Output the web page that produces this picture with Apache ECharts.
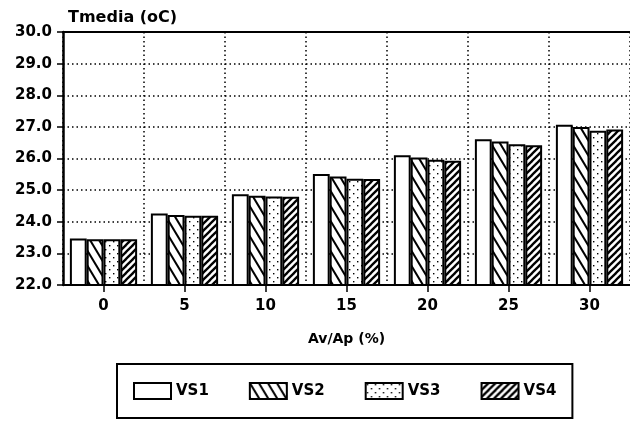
<!DOCTYPE html>
<html>
<head>
<meta charset="utf-8">
<script src="https://cdn.jsdelivr.net/npm/echarts@6/dist/echarts.min.js"></script>
<style>
  html, body { margin: 0; padding: 0; background: #fff; }
  #chart { width: 630px; height: 423px; }
</style>
</head>
<body>
<div id="chart"></div>
<script>
// Ventilation ratio categories (Av/Ap, %)
const categories = ['0', '5', '10', '15', '20', '25', '30'];
// Mean temperature (oC) per configuration
const vs1 = [23.47, 24.26, 24.87, 25.51, 26.10, 26.61, 27.07];
const vs2 = [23.45, 24.21, 24.82, 25.43, 26.03, 26.54, 27.00];
const vs3 = [23.45, 24.19, 24.80, 25.36, 25.96, 26.45, 26.88];
const vs4 = [23.45, 24.19, 24.79, 25.35, 25.93, 26.42, 26.92];
const seriesNames = ['VS1', 'VS2', 'VS3', 'VS4'];
const yTicks = { min: 22, max: 30, step: 1 };

const FONT = 'DejaVu Sans';

// Monochrome hatch fills built on small tiles
function tile(w, h, draw) {
  const c = document.createElement('canvas');
  c.width = w; c.height = h;
  const g = c.getContext('2d');
  g.fillStyle = '#fff';
  g.fillRect(0, 0, w, h);
  g.strokeStyle = '#000';
  g.fillStyle = '#000';
  draw(g, w, h);
  return { image: c, repeat: 'repeat' };
}
// steep back-slash hatch
const backHatch = tile(9, 15, (g, w, h) => {
  g.lineWidth = 2;
  for (let k = -1; k <= 1; k++) {
    g.beginPath();
    g.moveTo(k * w - w, -h);
    g.lineTo(k * w + 2 * w, 2 * h);
    g.stroke();
  }
});
// sparse dots
const dots = tile(8, 8, (g) => {
  g.fillRect(1, 1, 1.4, 1.4);
  g.fillRect(5, 5, 1.4, 1.4);
});
// dense forward-slash hatch
const fwdHatch = tile(7, 7, (g, w, h) => {
  g.lineWidth = 2.3;
  for (let k = -1; k <= 1; k++) {
    g.beginPath();
    g.moveTo(k * w - w, 2 * h);
    g.lineTo(k * w + 2 * w, -h);
    g.stroke();
  }
});

const fills = ['#fff', backHatch, dots, fwdHatch];
const values = [vs1, vs2, vs3, vs4];

const chart = echarts.init(document.getElementById('chart'), null, { renderer: 'canvas' });

chart.setOption({
  animation: false,
  backgroundColor: '#fff',
  title: {
    text: 'Tmedia (oC)',
    left: 63, top: 5,
    textStyle: { fontFamily: FONT, fontWeight: 'bold', fontSize: 16, color: '#000' }
  },
  grid: { left: 63, right: -2, top: 32, bottom: 138 },
  legend: {
    data: seriesNames,
    left: 117, top: 364,
    padding: [18, 16, 18, 16],
    itemWidth: 37, itemHeight: 16, itemGap: 40,
    borderColor: '#000', borderWidth: 2,
    icon: 'rect',
    textStyle: { fontFamily: FONT, fontWeight: 'bold', fontSize: 15, color: '#000' }
  },
  xAxis: [{
    type: 'category',
    data: categories,
    name: 'Av/Ap (%)',
    nameLocation: 'middle',
    nameGap: 47,
    nameTextStyle: { fontFamily: FONT, fontWeight: 'bold', fontSize: 14, color: '#000' },
    axisLine: { lineStyle: { color: '#000', width: 2 } },
    axisTick: { show: true, alignWithLabel: true, length: 7, lineStyle: { color: '#000', width: 1.5 } },
    axisLabel: { margin: 14, fontFamily: FONT, fontWeight: 'bold', fontSize: 15, color: '#000' },
    splitLine: { show: true, lineStyle: { color: '#000', width: 1.5, type: [1.5, 3] } }
  }, {
    type: 'category',
    data: categories,
    position: 'top',
    axisLine: { show: true, lineStyle: { color: '#000', width: 2 } },
    axisTick: { show: false },
    axisLabel: { show: false },
    splitLine: { show: false }
  }],
  yAxis: {
    type: 'value',
    min: yTicks.min, max: yTicks.max, interval: yTicks.step,
    axisLine: { show: true, lineStyle: { color: '#000', width: 2.5 } },
    axisTick: { show: true, length: 6, lineStyle: { color: '#000', width: 1.5 } },
    axisLabel: {
      margin: 11,
      fontFamily: FONT, fontWeight: 'bold', fontSize: 15, color: '#000',
      formatter: v => v.toFixed(1)
    },
    splitLine: { show: true, lineStyle: { color: '#000', width: 1.5, type: [1.5, 3] } }
  },
  series: seriesNames.map((name, i) => ({
    name,
    type: 'bar',
    data: values[i],
    barGap: '0%',
    barCategoryGap: '17%',
    itemStyle: { color: fills[i], borderColor: '#000', borderWidth: 2 }
  }))
});
</script>
</body>
</html>
